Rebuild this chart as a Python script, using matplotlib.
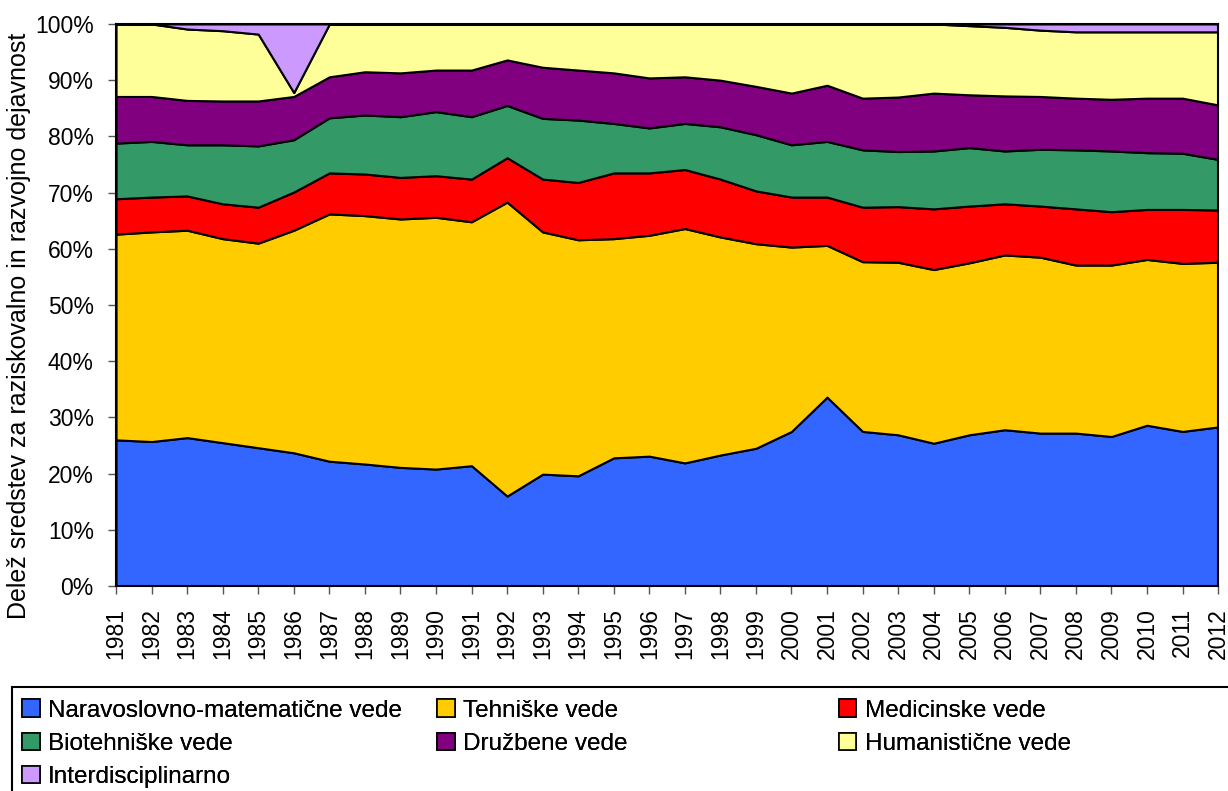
import matplotlib
matplotlib.use("Agg")
import matplotlib.pyplot as plt
from matplotlib.patches import Patch, Rectangle

plt.rcParams['font.family'] = ['Liberation Sans', 'DejaVu Sans']

years = list(range(1981, 2013))

# deleži po vedah (%)
naravoslovno = [26.0, 25.7, 26.4, 25.5, 24.6, 23.7, 22.2, 21.7, 21.1, 20.8, 21.4, 16.0,
                19.9, 19.6, 22.8, 23.1, 21.9, 23.3, 24.5, 27.5, 33.6, 27.5, 26.9, 25.4,
                26.9, 27.8, 27.2, 27.2, 26.6, 28.6, 27.5, 28.3]
tehniske = [36.6, 37.3, 36.9, 36.3, 36.4, 39.6, 44.0, 44.2, 44.2, 44.8, 43.4, 52.3,
            43.1, 42.0, 39.0, 39.3, 41.7, 38.8, 36.4, 32.8, 27.0, 30.2, 30.7, 30.9,
            30.6, 31.1, 31.3, 29.9, 30.5, 29.5, 29.9, 29.3]
medicinske = [6.3, 6.2, 6.1, 6.2, 6.4, 6.8, 7.3, 7.4, 7.4, 7.4, 7.6, 7.9,
              9.4, 10.2, 11.7, 11.1, 10.5, 10.3, 9.4, 8.9, 8.6, 9.7, 9.9, 10.8,
              10.1, 9.1, 9.1, 10.0, 9.5, 8.9, 9.6, 9.3]
biotehniske = [9.9, 9.9, 9.1, 10.5, 10.9, 9.3, 9.8, 10.5, 10.8, 11.4, 11.1, 9.3,
               10.8, 11.1, 8.8, 8.0, 8.2, 9.3, 10.0, 9.3, 9.9, 10.2, 9.8, 10.3,
               10.4, 9.4, 10.1, 10.5, 10.8, 10.1, 10.0, 9.0]
druzbene = [8.3, 8.0, 7.9, 7.8, 8.0, 7.7, 7.3, 7.7, 7.8, 7.4, 8.3, 8.1,
            9.1, 8.9, 9.0, 8.9, 8.3, 8.3, 8.6, 9.2, 10.0, 9.2, 9.7, 10.3,
            9.4, 9.8, 9.4, 9.2, 9.2, 9.7, 9.8, 9.7]
humanisticne = [12.9, 12.9, 12.7, 12.5, 11.9, 0.7, 9.4, 8.5, 8.7, 8.2, 8.2, 6.4,
                7.7, 8.2, 8.7, 9.6, 9.4, 10.0, 11.1, 12.3, 10.9, 13.2, 13.0, 12.3,
                12.3, 12.2, 11.8, 11.8, 12.0, 11.8, 11.8, 13.0]
interdisciplinarno = [0.0, 0.0, 0.9, 1.2, 1.8, 12.2, 0, 0, 0, 0, 0, 0,
                      0, 0, 0, 0, 0, 0, 0, 0, 0, 0, 0, 0,
                      0.3, 0.6, 1.1, 1.4, 1.4, 1.4, 1.4, 1.4]

labels = ['Naravoslovno-matematične vede', 'Tehniške vede', 'Medicinske vede',
          'Biotehniške vede', 'Družbene vede', 'Humanistične vede', 'Interdisciplinarno']
colors = ['#3366FF', '#FFCC00', '#FF0000', '#339966', '#800080', '#FFFF99', '#CC99FF']
series = [naravoslovno, tehniske, medicinske, biotehniske, druzbene, humanisticne,
          interdisciplinarno]

fig = plt.figure(figsize=(12.28, 7.91), dpi=100)
ax = fig.add_axes([0.0945, 0.2592, 0.8974, 0.7105])

ax.stackplot(years, *series, colors=colors, edgecolor='black', linewidth=1.5)

ax.set_xlim(1981, 2012)
ax.set_ylim(0, 100)
ax.set_yticks(range(0, 101, 10))
ax.set_yticklabels([f'{v}%' for v in range(0, 101, 10)], fontsize=16.5)
ax.set_xticks(years)
ax.set_xticklabels([str(y) for y in years], rotation=90, fontsize=16.5)
ax.tick_params(direction='out', length=6, width=1, color='#555555', pad=10)
for s in ax.spines.values():
    s.set_linewidth(1.5)
    s.set_color('black')
ax.set_ylabel('Delež sredstev za raziskovalno in razvojno dejavnost', fontsize=18)
ax.yaxis.set_label_coords(-0.077, 0.463)

# legenda v treh stolpcih (kot v Excelu)
handles = [Patch(facecolor=c, edgecolor='black', linewidth=1.2) for c in colors]
cols = [[0, 3, 6], [1, 4], [2, 5]]
xpos = [0.012, 0.350, 0.677]
for xp, idx in zip(xpos, cols):
    lg = fig.legend([handles[i] for i in idx], [labels[i] for i in idx],
                    loc='upper left', bbox_to_anchor=(xp, 0.125),
                    frameon=False, fontsize=17.5, handlelength=0.72, handleheight=0.72,
                    handletextpad=0.35, labelspacing=0.45, borderaxespad=0, borderpad=0.3)
    fig.add_artist(lg)
fig.patches.append(Rectangle((0.010, -0.01), 1.0, 0.141, transform=fig.transFigure,
                             fill=False, edgecolor='black', linewidth=1.5))

fig.savefig('out.png', dpi=100)
